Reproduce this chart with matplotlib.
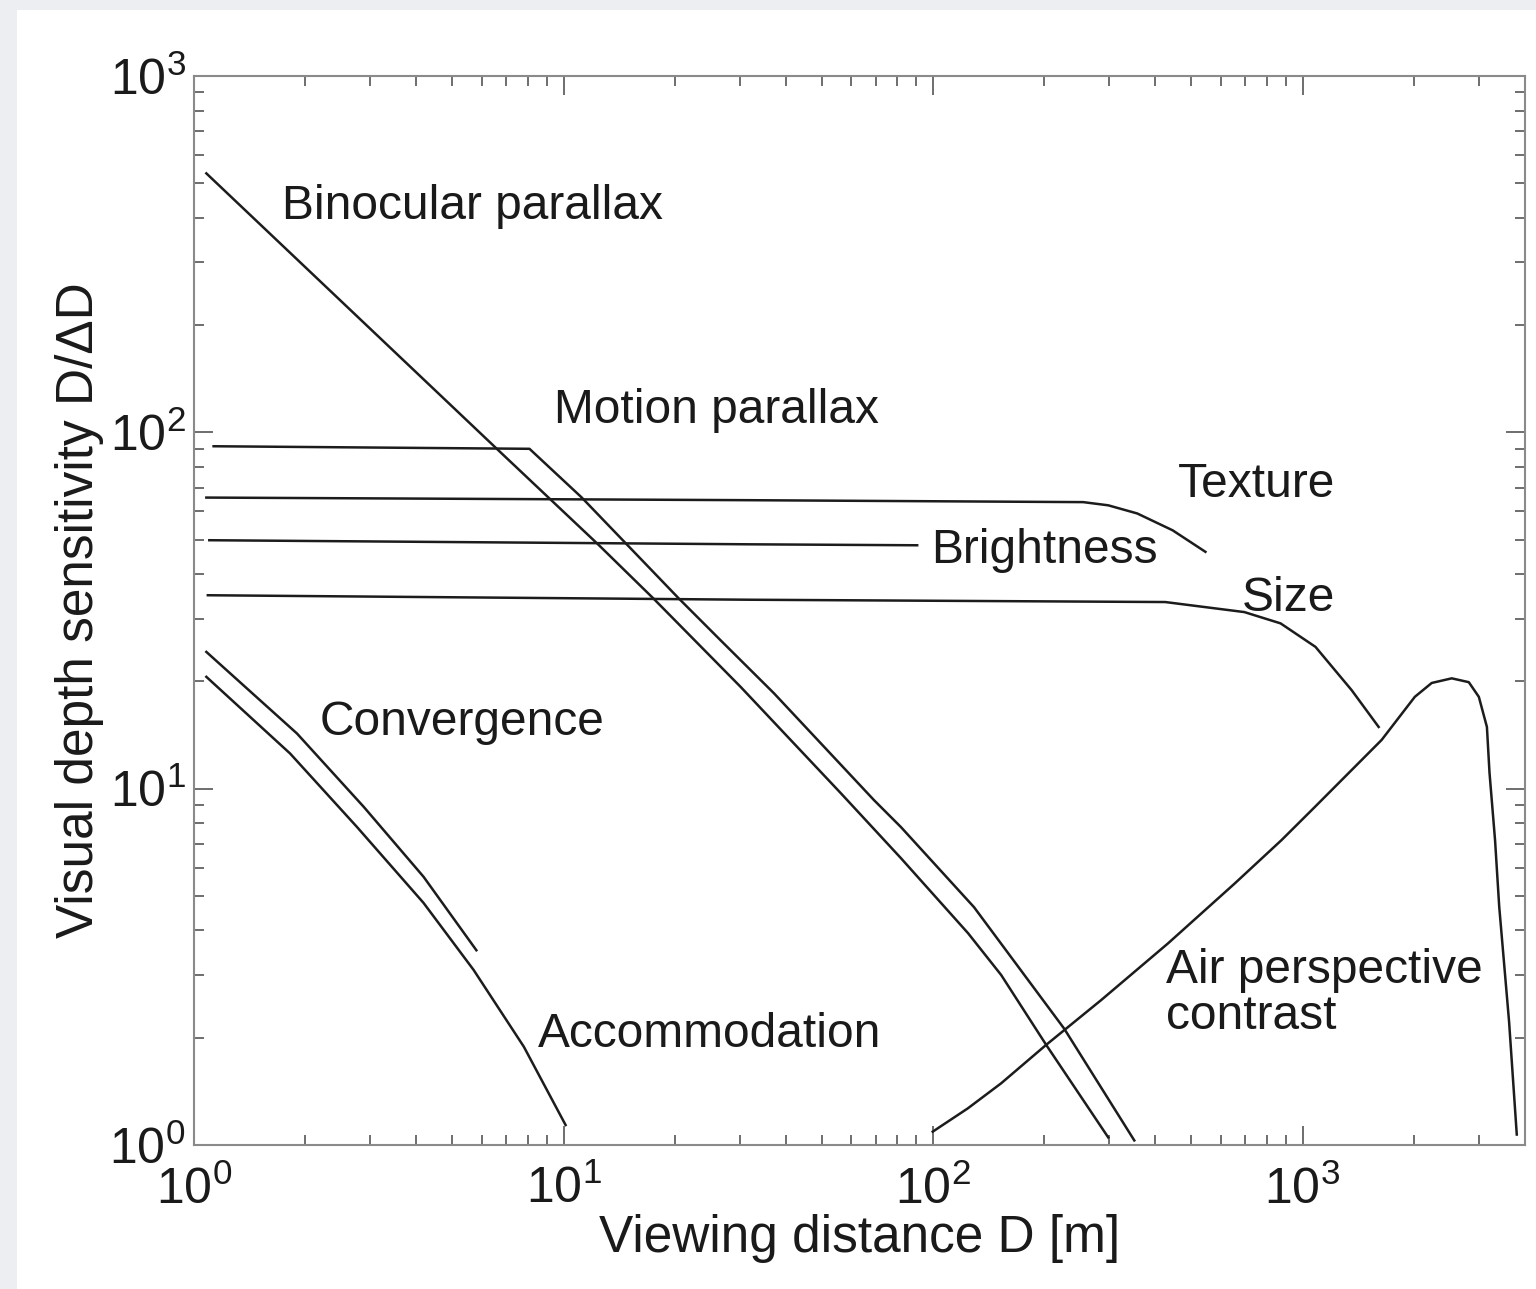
import matplotlib.pyplot as plt
from matplotlib.patches import Rectangle
from matplotlib.ticker import LogLocator, NullFormatter

plt.rcParams['font.family'] = ['Liberation Sans', 'DejaVu Sans']
plt.rcParams['mathtext.fontset'] = 'custom'
plt.rcParams['mathtext.rm'] = 'Liberation Sans'
plt.rcParams['mathtext.it'] = 'Liberation Sans:italic'

# curves (distance in m, sensitivity D/dD)
binocular_x = [1.08, 6.8, 12.4, 17.5, 30.2, 56.3, 81.9, 124.4, 152.9, 202.4, 298]
binocular_y = [533, 87.3, 48.5, 34.2, 19.27, 9.71, 6.38, 3.93, 3.00, 1.91, 1.05]

motion_x = [1.13, 8.09, 11.19, 20.5, 26.6, 37.1, 69.2, 81.9, 129.1, 226.5, 350.5]
motion_y = [91.4, 89.9, 65.7, 34.2, 26.1, 18.53, 9.29, 7.80, 4.65, 2.12, 1.03]

texture_x = [1.08, 32, 255, 298, 357, 445, 546]
texture_y = [65.6, 64.5, 63.7, 62.4, 59.2, 53.1, 46.2]

brightness_x = [1.1, 32, 90.6]
brightness_y = [49.8, 48.5, 48.2]

size_x = [1.09, 32, 425, 696, 872, 1084, 1358, 1607]
size_y = [34.9, 33.9, 33.4, 31.3, 29.1, 25.0, 18.9, 14.9]

air_x = [99.8, 124.2, 152.9, 202.4, 285, 432.5, 655.5, 877, 1078, 1637, 2013, 2237,
         2534, 2818, 3000, 3155, 3206, 3319, 3406, 3622, 3800]
air_y = [1.09, 1.267, 1.49, 1.91, 2.55, 3.68, 5.42, 7.17, 8.87, 13.7, 18.1, 19.8,
         20.4, 19.9, 18.1, 14.9, 11.1, 7.17, 4.67, 2.22, 1.07]

convergence_x = [1.08, 1.9, 2.88, 4.18, 5.81]
convergence_y = [24.2, 14.28, 8.89, 5.66, 3.52]

accommodation_x = [1.08, 1.82, 2.76, 4.18, 5.71, 7.81, 10.13]
accommodation_y = [20.6, 12.55, 7.81, 4.78, 3.10, 1.887, 1.138]

# label text and where it sits (left edge, baseline)
labels = ['Binocular parallax', 'Motion parallax', 'Texture', 'Brightness', 'Size',
          'Convergence', 'Accommodation', 'Air perspective\ncontrast']
label_x = [1.73, 9.4, 461, 98.8, 683, 2.19, 8.5, 428]
label_y = [398, 106, 65.7, 42.9, 31.5, 14.1, 1.88, 1.98]

fig = plt.figure(figsize=(15.36, 12.89), dpi=100, facecolor='#eceef1')
fig.patches.append(Rectangle((17 / 1536, 0), 1, 1 - 10 / 1289, transform=fig.transFigure,
                             facecolor='white', edgecolor='none', zorder=-10))
ax = fig.add_axes([194 / 1536, 1 - 1145 / 1289, (1525 - 194) / 1536, (1145 - 76) / 1289])
ax.set_facecolor('white')

line_kw = dict(color='#1c1c1c', lw=1.8, solid_joinstyle='round')
ax.plot(binocular_x, binocular_y, **line_kw)
ax.plot(motion_x, motion_y, **line_kw)
ax.plot(texture_x, texture_y, **line_kw)
ax.plot(brightness_x, brightness_y, **line_kw)
ax.plot(size_x, size_y, **line_kw)
ax.plot(air_x, air_y, **line_kw)
ax.plot(convergence_x, convergence_y, **line_kw)
ax.plot(accommodation_x, accommodation_y, **line_kw)

for txt, x, y in zip(labels, label_x, label_y):
    va = 'baseline'
    if '\n' in txt:
        va = 'bottom'
    ax.text(x, y, txt, fontsize=34.5, ha='left', va=va, color='#1a1a1a', linespacing=1.05)

ax.set_xscale('log')
ax.set_yscale('log')
ax.set_xlim(1, 4000)
ax.set_ylim(1, 1000)
ax.xaxis.set_major_locator(LogLocator(base=10, numticks=10))
ax.xaxis.set_minor_locator(LogLocator(base=10, subs=range(2, 10), numticks=20))
ax.yaxis.set_minor_locator(LogLocator(base=10, subs=range(2, 10), numticks=20))
ax.xaxis.set_minor_formatter(NullFormatter())
ax.yaxis.set_minor_formatter(NullFormatter())

ax.tick_params(which='both', direction='in', top=True, right=True, colors='#555555',
               labelcolor='#1a1a1a', width=1.2)
ax.tick_params(which='major', length=14, labelsize=36)
ax.tick_params(which='minor', length=7)
ax.tick_params(axis='x', which='major', pad=15)
ax.tick_params(axis='y', which='major', pad=6)
for sp in ax.spines.values():
    sp.set_color('#8a8a8a')
    sp.set_linewidth(1.5)

ax.set_xlabel('Viewing distance D [m]', fontsize=37, color='#1a1a1a', labelpad=0)
ax.set_ylabel('Visual depth sensitivity D/ΔD', fontsize=37, color='#1a1a1a', labelpad=4)

fig.savefig('out.png', dpi=100, facecolor=fig.get_facecolor())
